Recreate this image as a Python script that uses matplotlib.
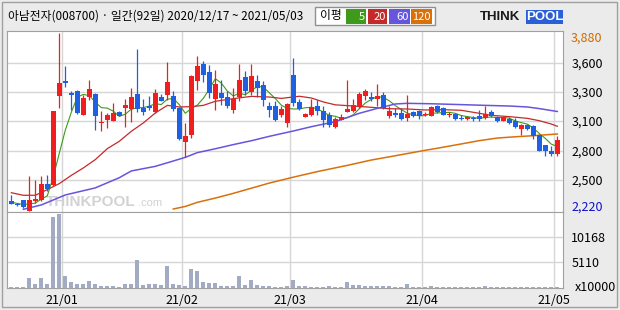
import numpy as np
import matplotlib
matplotlib.use("Agg")
import matplotlib.pyplot as plt
from matplotlib.patches import Rectangle

plt.rcParams['font.family'] = ['Noto Sans CJK KR', 'DejaVu Sans']

# ---- data (92 trading days, 2020/12/17 ~ 2021/05/03) ----
title = "아남전자(008700) · 일간(92일) 2020/12/17 ~ 2021/05/03"

opens = [2310, 2288, 2320, 2223, 2310, 2326, 2472, 2459, 3296, 3436,
         3321, 3342, 3118, 3283, 3311, 3044, 3072, 3062, 3143, 3181,
         3174, 3311, 3181, 3196, 3140, 3280, 3305, 3289, 3181, 2860,
         2932, 3429, 3591, 3516, 3268, 3321, 3283, 3165, 3283, 3470,
         3330, 3436, 3398, 3202, 3202, 3112, 3041, 3492, 3237, 3100,
         3118, 3196, 3150, 3112, 3000, 3072, 3143, 3156, 3187, 3296,
         3280, 3268, 3305, 3109, 3134, 3134, 3087, 3143, 3156, 3118,
         3109, 3202, 3181, 3118, 3125, 3087, 3081, 3084, 3103, 3087,
         3140, 3094, 3062, 3081, 3062, 2988, 3025, 3010, 2932, 2832,
         2782, 2751]
highs = [2372, 2295, 2326, 2543, 2506, 2543, 2559, 3150, 3880, 3569,
         3336, 3352, 3305, 3445, 3321, 3150, 3134, 3227, 3150, 3265,
         3367, 3731, 3265, 3289, 3361, 3314, 3607, 3336, 3187, 3041,
         3492, 3663, 3616, 3579, 3538, 3439, 3336, 3367, 3591, 3523,
         3591, 3492, 3429, 3237, 3249, 3196, 3227, 3647, 3268, 3134,
         3265, 3252, 3196, 3143, 3094, 3125, 3445, 3265, 3330, 3361,
         3330, 3404, 3330, 3196, 3181, 3181, 3305, 3150, 3165, 3143,
         3196, 3212, 3187, 3143, 3134, 3112, 3103, 3103, 3165, 3196,
         3165, 3103, 3100, 3094, 3087, 3031, 3031, 3019, 2938, 2839,
         2823, 2916]
lows = [2285, 2263, 2248, 2220, 2295, 2310, 2403, 2450, 3181, 3373,
        3165, 3125, 3112, 3258, 2978, 2963, 2994, 3056, 3103, 3000,
        3047, 3143, 3112, 3165, 3134, 3243, 3258, 3156, 2885, 2720,
        2901, 3352, 3420, 3274, 3165, 3212, 3181, 3134, 3249, 3305,
        3305, 3280, 3202, 3097, 3062, 3094, 3000, 3196, 3165, 3094,
        3103, 3112, 3000, 3003, 2994, 3072, 3143, 3143, 3181, 3258,
        3249, 3196, 3174, 3087, 3094, 3072, 3062, 3094, 3081, 3103,
        3103, 3134, 3112, 3094, 3072, 3072, 3066, 3062, 3062, 3081,
        3094, 3050, 3056, 3031, 2994, 2932, 2978, 2894, 2776, 2730,
        2730, 2730]
closes = [2285, 2272, 2254, 2320, 2332, 2472, 2428, 3150, 3411, 3411,
          3305, 3134, 3274, 3358, 3103, 3050, 3112, 3134, 3109, 3212,
          3283, 3174, 3140, 3181, 3321, 3249, 3423, 3171, 2894, 2916,
          3476, 3576, 3492, 3321, 3404, 3274, 3202, 3265, 3445, 3336,
          3482, 3367, 3258, 3165, 3072, 3171, 3218, 3227, 3174, 3125,
          3190, 3150, 3072, 3025, 3078, 3094, 3174, 3212, 3314, 3342,
          3265, 3296, 3181, 3156, 3118, 3081, 3125, 3109, 3109, 3125,
          3187, 3143, 3118, 3125, 3081, 3081, 3097, 3078, 3081, 3125,
          3103, 3062, 3094, 3041, 3000, 3025, 2988, 2916, 2782, 2776,
          2751, 2885]
volumes = [200, 200, 200, 1840, 750, 1840, 750, 14270, 14890, 2250,
           1160, 750, 615, 1370, 750, 340, 340, 340, 200, 750,
           750, 5530, 550, 750, 750, 550, 4440, 750, 550, 340,
           3690, 3415, 1160, 820, 960, 340, 340, 340, 2390, 550,
           1570, 550, 340, 340, 200, 200, 340, 1570, 270, 340,
           200, 200, 200, 270, 200, 200, 1160, 480, 550, 340,
           340, 270, 340, 270, 200, 200, 615, 200, 200, 200,
           340, 200, 200, 200, 200, 200, 200, 200, 200, 340,
           200, 200, 200, 200, 200, 200, 200, 200, 200, 200,
           200, 200]

ma5 = [2300, 2290, 2280, 2285, 2293, 2330, 2361, 2540, 2759, 2974,
       3141, 3282, 3307, 3296, 3235, 3184, 3179, 3151, 3102, 3123,
       3170, 3182, 3184, 3198, 3220, 3213, 3263, 3269, 3212, 3131,
       3176, 3207, 3271, 3356, 3454, 3413, 3339, 3293, 3318, 3304,
       3346, 3379, 3378, 3322, 3269, 3207, 3177, 3171, 3172, 3183,
       3187, 3173, 3142, 3112, 3103, 3084, 3089, 3117, 3174, 3227,
       3261, 3286, 3280, 3248, 3203, 3166, 3132, 3118, 3108, 3110,
       3131, 3135, 3136, 3140, 3131, 3110, 3100, 3092, 3084, 3092,
       3097, 3090, 3093, 3085, 3060, 3044, 3030, 2994, 2942, 2897,
       2843, 2822]
ma20_day = [0, 2, 4, 6, 8, 10, 12, 14, 16, 18, 20, 22, 24, 26, 28, 30, 32, 34,
            37, 40, 43, 45, 48, 50, 52, 54, 57, 60, 63, 66, 69, 72, 75, 78,
            80, 83, 86, 88, 90, 91]
ma20_val = [2390, 2366, 2366, 2419, 2475, 2552, 2621, 2699, 2801, 2870, 2963,
            3041, 3134, 3205, 3190, 3193, 3205, 3243, 3268, 3289, 3283, 3270,
            3290, 3274, 3237, 3210, 3199, 3187, 3174, 3171, 3162, 3165, 3159,
            3131, 3112, 3100, 3084, 3062, 3031, 3010]
ma60_day = [2, 5, 9, 14, 18, 20, 24, 27, 29, 31, 34, 37, 40, 43, 47, 50, 54,
            58, 61, 64, 66, 70, 75, 79, 83, 86, 88, 91]
ma60_val = [2235, 2276, 2369, 2435, 2530, 2593, 2636, 2686, 2720, 2764, 2800,
            2839, 2875, 2916, 2966, 3006, 3053, 3131, 3177, 3218, 3224, 3220,
            3212, 3205, 3199, 3190, 3175, 3148]
ma120_day = [27, 29, 31, 34, 37, 40, 43, 47, 51, 56, 60, 64, 68, 71, 75, 78,
             81, 84, 87, 91]
ma120_val = [2238, 2262, 2300, 2340, 2384, 2432, 2480, 2535, 2587, 2645, 2695,
             2735, 2776, 2805, 2845, 2876, 2900, 2912, 2922, 2938]

month_labels = ["21/01", "21/02", "21/03", "21/04", "21/05"]
month_start = [9, 29, 47, 69, 91]
price_grid = [3600, 3330, 3059, 2779, 2508]
price_labels = ["3,600", "3,300", "3,100", "2,800", "2,500"]
price_max, price_min = 3880, 2220
vol_ticks = [5110, 10168]

RED, BLUE = "#f01e1e", "#1f5fe4"
C5, C20, C60, C120 = "#3f9a1c", "#c42a2a", "#6655dd", "#d9700a"
GRID, EDGE = "#d6d6d6", "#a0a0a0"

W, H = 620, 310
fig = plt.figure(figsize=(6.2, 3.1), dpi=100, facecolor="#ebebeb")


def box(x0, y0, x1, y1):
    # pixel box measured from the top-left corner -> figure fraction
    return [x0 / W, 1 - y1 / H, (x1 - x0) / W, (y1 - y0) / H]


def px(x, y):
    return x / W, 1 - y / H


ax = fig.add_axes(box(7, 31, 563, 212))
axv = fig.add_axes(box(7, 212, 563, 287.5), sharex=ax)

idx = np.arange(len(closes))
o = np.array(opens)
c = np.array(closes)
col = np.where(c >= o, RED, BLUE)

# moving averages
ax.plot(idx, ma5, color=C5, lw=0.8, zorder=2)
ax.plot(ma20_day, ma20_val, color=C20, lw=0.9, zorder=2)
ax.plot(ma60_day, ma60_val, color=C60, lw=1.1, zorder=2)
ax.plot(ma120_day, ma120_val, color=C120, lw=1.1, zorder=2)

# candles
ax.vlines(idx, lows, highs, colors=col, lw=0.9, zorder=3)
ax.bar(idx, np.maximum(np.abs(c - o), 9), 0.75, bottom=np.minimum(o, c),
       color=col, linewidth=0, zorder=4)

# watermark
ax.text(0.07, 0.055, "THINKPOOL", transform=ax.transAxes, fontsize=11,
        fontweight="bold", family="Liberation Sans", color="#d2d2d2",
        va="center", zorder=1.5)
ax.text(0.236, 0.05, ".com", transform=ax.transAxes, fontsize=8,
        family="Liberation Sans", color="#d2d2d2", va="center", zorder=1.5)

ax.set_xlim(-0.72, 91.95)
ax.set_ylim(2210, 3899)
ax.set_facecolor("white")
ax.set_axisbelow(True)
ax.set_yticks(price_grid)
ax.set_yticklabels(price_labels)
ax.yaxis.tick_right()
ax.set_xticks([m - 0.5 for m in month_start])
ax.grid(True, color=GRID, lw=1)
ax.tick_params(axis="y", length=0, pad=6, labelsize=9)
ax.tick_params(axis="x", length=0, labelbottom=False)
for s in ax.spines.values():
    s.set_color(EDGE)

xr = 1.0 + 8 / 556
ax.text(xr, (212 - 38) / 181, "3,880", transform=ax.transAxes, fontsize=9,
        color="#cc6a00", va="center", ha="left")
ax.text(xr, (212 - 207) / 181, "2,220", transform=ax.transAxes, fontsize=9,
        color="#1010cc", va="center", ha="left")

# volume panel
axv.bar(idx, volumes, 0.7, color="#a3aac3", linewidth=0, zorder=3)
axv.set_ylim(0, 15252)
axv.set_facecolor("white")
axv.set_axisbelow(True)
axv.set_yticks(vol_ticks)
axv.set_yticklabels([str(v) for v in vol_ticks])
axv.yaxis.tick_right()
axv.set_xticks([m - 0.5 for m in month_start])
axv.set_xticklabels(month_labels)
axv.grid(True, color=GRID, lw=1)
axv.tick_params(axis="y", length=0, pad=6, labelsize=9)
axv.tick_params(axis="x", length=0, pad=5, labelsize=9)
for s in axv.spines.values():
    s.set_color(EDGE)
axv.text(1.0 + 12 / 556, 0.0, "x10000", transform=axv.transAxes, fontsize=9,
         va="center", ha="left")

# header
fig.text(*px(8, 16), title, fontsize=8.5, va="center", ha="left")

fig.add_artist(Rectangle(px(315, 25), 120 / W, 18 / H, transform=fig.transFigure,
                         facecolor="white", edgecolor="#909090", lw=1))
fig.text(*px(331, 16), "이평", fontsize=8.5, va="center", ha="center")
for (x0, x1), lab, cc in zip([(346, 366), (368, 387), (389, 410), (411, 432)],
                             ["5", "20", "60", "120"], [C5, C20, C60, C120]):
    fig.add_artist(Rectangle(px(x0, 23.5), (x1 - x0) / W, 14 / H,
                             transform=fig.transFigure, facecolor=cc, lw=0))
    fig.text(*px(x1 - 1.5, 16.5), lab, fontsize=8, color="white",
             va="center", ha="right")

# logo
fig.text(*px(480, 17), "THINK", fontsize=9.5, fontweight="heavy",
         family="Liberation Sans", color="#1a1a1a", va="center", ha="left")
fig.add_artist(Rectangle(px(526, 24), 37 / W, 14 / H, transform=fig.transFigure,
                         facecolor="#2b5fd8", lw=0))
fig.text(*px(544.5, 17), "POOL", fontsize=9.5, fontweight="heavy",
         family="Liberation Sans", color="white", va="center", ha="center")

# outer frame
fig.add_artist(Rectangle(px(2, 307), 615 / W, 305 / H, transform=fig.transFigure,
                         fill=False, edgecolor=EDGE, lw=1))

fig.savefig("out.png", dpi=100, facecolor=fig.get_facecolor())
